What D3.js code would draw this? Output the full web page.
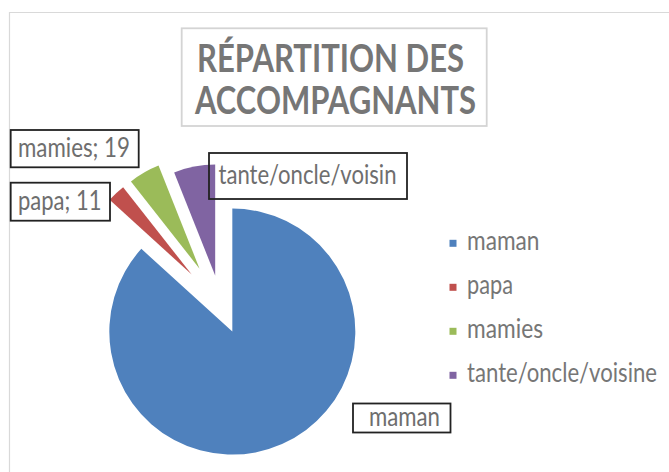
<!DOCTYPE html>
<html>
<head>
<meta charset="utf-8">
<script src="https://cdn.jsdelivr.net/npm/d3@7"></script>
<style>
  body { margin: 0; background: #fff; }
  text { font-family: Lato, "Liberation Sans", Arial, sans-serif; }
</style>
</head>
<body>
<div id="chart"></div>
<script>
// 1: DATA
const categories = ["maman", "papa", "mamies", "tante/oncle/voisine"];
const values = [360, 11, 19, 25];
const sliceLabels = ["maman", "papa; 11", "mamies; 19", "tante/oncle/voisin"];
const colors = ["#4f81bd", "#c0504d", "#9bbb59", "#8064a2"];
const titleLines = ["RÉPARTITION DES", "ACCOMPAGNANTS"];

// 2: LAYOUT
const W = 669, H = 472;
const center = { x: 221, y: 306 };
const explode = [28, 43, 43, 31];     // offset of each slice along its bisector
const radius = [123, 111, 111, 111];

// label boxes placed by hand like in the original sheet
const labelLayout = [
    { bx: 353, by: 403.5, bw: 97.5, bh: 29, tx: 369, ty: 426, tw: 71 },
    { bx: 10.7, by: 182.7, bw: 99.3, bh: 38, tx: 18, ty: 210, tw: 83.5 },
    { bx: 10.7, by: 130, bw: 128, bh: 37.3, tx: 18, ty: 156.7, tw: 112 },
    { bx: 209, by: 153, bw: 198, bh: 46, tx: 218.5, ty: 184, tw: 178 }
];
const legendWidths = [72.5, 46, 76, 190];

const svg = d3.select("#chart")
    .append("svg")
    .attr("width", W)
    .attr("height", H);

svg.append("rect")
    .attr("width", W).attr("height", H)
    .attr("fill", "#fff");

// chart area border (cut by the screenshot on the right and bottom)
svg.append("path")
    .attr("d", `M9.5,${H} V12.5 H${W}`)
    .attr("fill", "none")
    .attr("stroke", "#d9d9d9")
    .attr("stroke-width", 1.2);

// 3: TITLE
svg.append("rect")
    .attr("x", 181.7).attr("y", 28.3)
    .attr("width", 305).attr("height", 97.7)
    .attr("fill", "#fff")
    .attr("stroke", "#d4d4d4")
    .attr("stroke-width", 1.8);

const titleX = [197, 195], titleY = [72, 113.5], titleW = [267, 281];
svg.selectAll(".title")
    .data(titleLines)
    .enter()
    .append("text")
    .attr("class", "title")
    .attr("x", (d, i) => titleX[i])
    .attr("y", (d, i) => titleY[i])
    .attr("textLength", (d, i) => titleW[i])
    .attr("lengthAdjust", "spacingAndGlyphs")
    .style("font-size", "39px")
    .style("font-weight", "bold")
    .style("fill", "#767676")
    .text(d => d);

// 4: PIE
const pie = d3.pie().sort(null).value(d => d);
const arcs = pie(values);

svg.selectAll(".slice")
    .data(arcs)
    .enter()
    .append("path")
    .attr("class", "slice")
    .attr("transform", (d, i) => {
        const mid = (d.startAngle + d.endAngle) / 2;
        const dx = Math.sin(mid) * explode[i];
        const dy = -Math.cos(mid) * explode[i];
        return `translate(${center.x + dx},${center.y + dy})`;
    })
    .attr("d", (d, i) => d3.arc().innerRadius(0).outerRadius(radius[i])(d))
    .style("fill", (d, i) => colors[i]);

// 5: DATA LABELS
const labels = svg.selectAll(".label")
    .data(sliceLabels)
    .enter()
    .append("g")
    .attr("class", "label");

labels.append("rect")
    .attr("x", (d, i) => labelLayout[i].bx)
    .attr("y", (d, i) => labelLayout[i].by)
    .attr("width", (d, i) => labelLayout[i].bw)
    .attr("height", (d, i) => labelLayout[i].bh)
    .attr("fill", "none")
    .attr("stroke", "#222")
    .attr("stroke-width", 1.8);

labels.append("text")
    .attr("x", (d, i) => labelLayout[i].tx)
    .attr("y", (d, i) => labelLayout[i].ty)
    .attr("textLength", (d, i) => labelLayout[i].tw)
    .attr("lengthAdjust", "spacingAndGlyphs")
    .style("font-size", "26px")
    .style("fill", "#6e6e6e")
    .text(d => d);

// 6: LEGEND
const legendY = d3.scalePoint()
    .domain(categories)
    .range([243.3, 375.3]);

const legend = svg.selectAll(".legend")
    .data(categories)
    .enter()
    .append("g")
    .attr("class", "legend")
    .attr("transform", d => `translate(449.5,${legendY(d)})`);

legend.append("rect")
    .attr("y", -3.5)
    .attr("width", 7)
    .attr("height", 7)
    .style("fill", (d, i) => colors[i]);

legend.append("text")
    .attr("x", 17.5)
    .attr("y", 6.3)
    .attr("textLength", (d, i) => legendWidths[i])
    .attr("lengthAdjust", "spacingAndGlyphs")
    .style("font-size", "26px")
    .style("fill", "#767676")
    .text(d => d);
</script>
</body>
</html>
